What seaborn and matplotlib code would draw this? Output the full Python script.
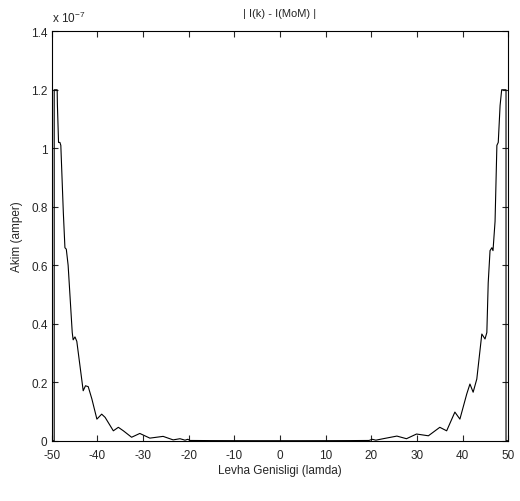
import numpy as np
import pandas as pd
import matplotlib
matplotlib.use('Agg')
import matplotlib.pyplot as plt
import seaborn as sns

# genislik (lamda) ve akim farki (x 1e-7 amper)
genislik = [-50, -49.45, -49.45, -48.8, -48.75, -48.5, -48.2, -48.0, -47.45, -47.1,
            -46.8, -46.4, -45.5, -45.3, -44.9, -44.5, -43.1, -42.6, -42.0, -41.2,
            -40.1, -39.05, -38.3, -36.5, -35.4, -34.3, -32.5, -30.7, -28.5, -25.6,
            -23.4, -21.9, -20.8, -20.2, -19.7, -15, -10, -5, 0, 5, 10, 15, 19.5,
            20.2, 21.0, 22.6, 25.6, 27.7, 29.9, 32.5, 35.0, 36.5, 38.3, 39.4, 40.9,
            41.6, 42.3, 43.1, 44.0, 44.2, 44.9, 45.3, 45.6, 46.0, 46.4, 46.65, 47.1,
            47.5, 47.8, 48.2, 48.55, 49.5, 49.5, 50]
akim = [0, 0, 1.2, 1.2, 1.15, 1.02, 1.02, 1.01, 0.78, 0.66,
        0.655, 0.6, 0.37, 0.345, 0.355, 0.34, 0.171, 0.188, 0.185, 0.143,
        0.074, 0.091, 0.08, 0.034, 0.046, 0.034, 0.012, 0.025, 0.009, 0.015,
        0.003, 0.007, 0.002, 0.005, 0.001, 0.0005, 0.0003, 0.0002, 0.0002, 0.0002, 0.0003, 0.0005, 0.001,
        0.005, 0.002, 0.007, 0.016, 0.007, 0.023, 0.017, 0.046, 0.034, 0.098, 0.074, 0.16,
        0.194, 0.166, 0.211, 0.337, 0.365, 0.348, 0.37, 0.54, 0.65, 0.66, 0.65, 0.75,
        1.01, 1.02, 1.146, 1.2, 1.2, 0, 0]

x_ticks = [-50, -40, -30, -20, -10, 0, 10, 20, 30, 40, 50]
y_ticks = [0, 0.2, 0.4, 0.6, 0.8, 1.0, 1.2, 1.4]

df = pd.DataFrame({'genislik': genislik, 'akim': akim})

sns.set_style('ticks')
plt.rcParams['font.family'] = ['Liberation Sans', 'DejaVu Sans']
plt.rcParams['axes.unicode_minus'] = False

fig = plt.figure(figsize=(5.2, 5.02), dpi=100)
ax = fig.add_axes([0.0994, 0.120, 0.8781, 0.8157])

sns.lineplot(data=df, x='genislik', y='akim', sort=False, estimator=None,
             color='black', linewidth=0.8, ax=ax)

ax.set_xlim(-50, 50)
ax.set_ylim(0, 1.4)
ax.set_xticks(x_ticks)
ax.set_yticks(y_ticks)
ax.set_yticklabels([f'{v:g}' for v in y_ticks])
ax.tick_params(direction='in', length=4, width=0.8, top=True, right=True,
               labelsize=8.5)
ax.tick_params(axis='x', pad=6)
ax.tick_params(axis='y', pad=3)
for s in ax.spines.values():
    s.set_linewidth(0.8)
    s.set_color('black')

ax.set_title('| I(k) - I(MoM) |', fontsize=8, pad=11)
ax.set_xlabel('Levha Genisligi (lamda)', fontsize=8.5, labelpad=2)
ax.set_ylabel('Akim (amper)', fontsize=8.5, labelpad=6)
ax.text(0.0, 1.015, r'x 10$^{\mathregular{-7}}$', transform=ax.transAxes,
        fontsize=8.5, ha='left', va='bottom')

fig.savefig('out.png', dpi=100)
